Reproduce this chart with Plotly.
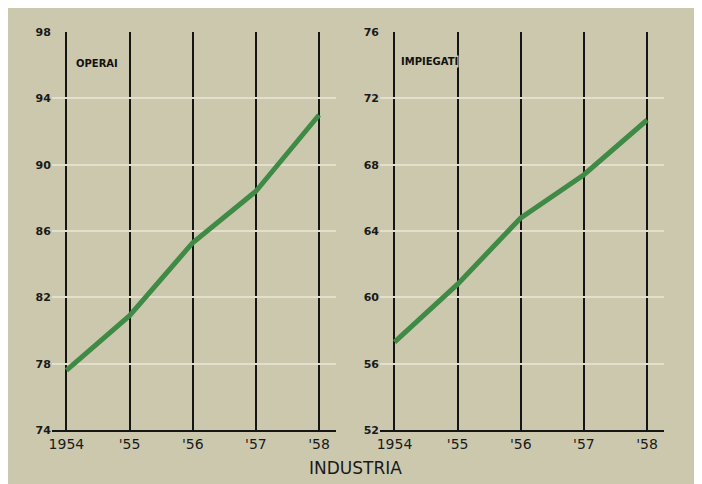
import plotly.graph_objs as go

# Data
anni = [1954, 1955, 1956, 1957, 1958]
etichette_anni = ["1954", "'55", "'56", "'57", "'58"]
operai = [77.6, 80.9, 85.3, 88.4, 93.0]
impiegati = [57.3, 60.8, 64.8, 67.4, 70.7]
tick_operai = [74, 78, 82, 86, 90, 94, 98]
tick_impiegati = [52, 56, 60, 64, 68, 72, 76]

sfondo = "#cbc8ae"
verde = "#3f8a45"

# page pixels -> paper coords (measured from previous renders)
def px(x):
    return (x - 9) / 701

def py(y):
    return 1 - (y - 13.9) / 471

fig = go.Figure()

fig.add_trace(go.Scatter(x=anni, y=operai, mode="lines",
                         line=dict(color=verde, width=5), xaxis="x", yaxis="y"))
fig.add_trace(go.Scatter(x=anni, y=impiegati, mode="lines",
                         line=dict(color=verde, width=5), xaxis="x2", yaxis="y2"))

tickfont = dict(family="DejaVu Sans", size=11, color="#1a1a1a", weight="bold")

asse_x = dict(range=[1953.77, 1958.27], tickvals=anni, ticktext=etichette_anni,
              showgrid=True, gridcolor="#151515", gridwidth=1.5,
              showline=True, linecolor="#151515", linewidth=2,
              zeroline=False, tickfont=dict(family="DejaVu Sans", size=14, color="#1a1a1a"),
              ticks="", ticklen=0)
asse_y = dict(showgrid=True, gridcolor="#e2dfcd", gridwidth=1.5,
              zeroline=False, showline=False, tickfont=tickfont, ticks="")

layout = go.Layout(
    width=702, height=484,
    margin=dict(l=0, r=0, t=0, b=0),
    paper_bgcolor=sfondo, plot_bgcolor=sfondo,
    showlegend=False,
    xaxis=dict(asse_x, domain=[px(50), px(335)], anchor="y"),
    yaxis=dict(asse_y, domain=[py(430), py(32)], range=[74, 98],
               tickvals=tick_operai, anchor="x"),
    xaxis2=dict(asse_x, domain=[px(379), px(664)], anchor="y2"),
    yaxis2=dict(asse_y, domain=[py(430), py(32)], range=[52, 76],
                tickvals=tick_impiegati, anchor="x2"),
    annotations=[
        dict(text="OPERAI", x=1954.12, y=96.1, xref="x", yref="y", showarrow=False,
             xanchor="left", font=dict(family="DejaVu Sans", size=10, color="#111", weight="bold")),
        # label covers the '55 line, as in the original
        dict(text="IMPIEGATI", x=1954.08, y=74.2, xref="x2", yref="y2", showarrow=False,
             xanchor="left", bgcolor=sfondo, borderpad=0,
             font=dict(family="DejaVu Sans", size=10, color="#111", weight="bold")),
        dict(text="INDUSTRIA", x=px(354), y=py(468), xref="paper", yref="paper",
             xanchor="center", yanchor="middle",
             showarrow=False, font=dict(family="DejaVu Sans", size=17, color="#1a1a1a")),
    ],
)

fig = go.Figure(data=fig.data, layout=layout)
fig.write_html("out.html")
